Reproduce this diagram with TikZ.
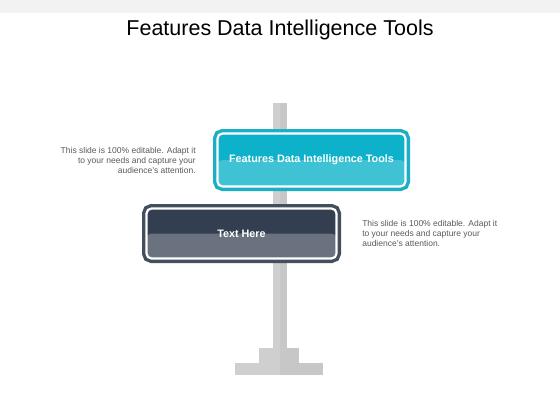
\documentclass[tikz,border=0pt]{standalone}
\usepackage{fontspec}
\setmainfont{Liberation Sans}
\usepackage{xcolor}
\usepackage{tikz}
\usetikzlibrary{positioning}

\definecolor{tealring}{HTML}{1BAEC4}
\definecolor{tealtop}{HTML}{0DB1C9}
\definecolor{tealbot}{HTML}{3FC3D4}
\definecolor{navyring}{HTML}{434E5E}
\definecolor{navytop}{HTML}{333F50}
\definecolor{navybot}{HTML}{69727E}
\definecolor{poleleft}{HTML}{CFCFCF}
\definecolor{poleright}{HTML}{C7C7C7}
\definecolor{notegray}{HTML}{595959}
\definecolor{bandgray}{HTML}{F2F2F2}

\begin{document}
\begin{tikzpicture}[x=1pt,y=-1pt,node distance=20pt]
		\tikzstyle{sign}=[rounded corners=5pt, draw=white, line width=2.2pt, inner sep=0pt, text=white, font=\bfseries\fontsize{10.8}{13}\selectfont]
		\tikzstyle{note}=[inner sep=0pt, text=notegray, font=\fontsize{8.5}{10}\selectfont]
		
		\useasboundingbox (0,0) rectangle (560,420);
		\fill[bandgray] (0,0) rectangle (560,13);
		
		\node (title) at (280,30) {\fontsize{21.5}{25}\selectfont Features Data Intelligence Tools};
		
		% pole and foot
		\fill[poleleft]  (272.5,103) rectangle (279.5,350);
		\fill[poleright] (279.5,103) rectangle (286.5,350);
		\fill[poleleft]  (259,348) rectangle (279.5,363);
		\fill[poleright] (279.5,348) rectangle (299,363);
		\fill[poleleft]  (235,363) rectangle (279.5,375);
		\fill[poleright] (279.5,363) rectangle (323,375);
		
		% signs
		\node[sign, minimum width=188pt, minimum height=53pt, fill=tealtop,
		  preaction={draw=tealring, line width=9pt},
		  path picture={\fill[tealbot] (path picture bounding box.west) rectangle (path picture bounding box.south east);}]
		  (sign_a) at (311.5,160) {Features Data Intelligence Tools};
		\node[sign, minimum width=190pt, minimum height=50pt, fill=navytop,
		  preaction={draw=navyring, line width=9pt},
		  path picture={\fill[navybot] (path picture bounding box.west) rectangle (path picture bounding box.south east);}]
		  (sign_b) at (241.5,233.5) {Text Here};
		
		\node[note, align=right] (note_a) [left=20.5pt of sign_a]  {This slide is 100\% editable.  Adapt it\\to your needs and capture your\\audience's attention.};
		\node[note, align=left]  (note_b) [right=24.5pt of sign_b] {This slide is 100\% editable.  Adapt it\\to your needs and capture your\\audience's attention.};
		
		\end{tikzpicture}
\end{document}
